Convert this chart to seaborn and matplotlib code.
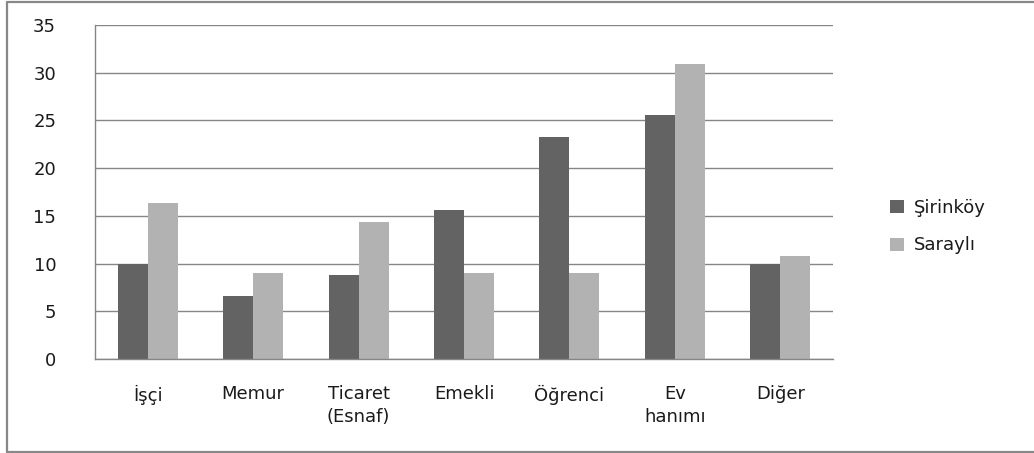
import pandas as pd
import matplotlib.pyplot as plt
import seaborn as sns
from matplotlib.lines import Line2D
from matplotlib.ticker import FixedLocator

sns.set_style("white")
plt.rcParams['font.family'] = ['DejaVu Sans']

# Data
categories = ["İşçi", "Memur", "Ticaret\n(Esnaf)", "Emekli", "Öğrenci", "Ev\nhanımı", "Diğer"]
sirinkoy = [10.0, 6.6, 8.8, 15.6, 23.3, 25.6, 10.0]
sarayli = [16.35, 9.0, 14.35, 9.0, 9.0, 30.95, 10.8]
series = ["Şirinköy", "Saraylı"]
colors = ["#636363", "#b2b2b2"]

df = pd.DataFrame({
    "kategori": categories * 2,
    "deger": sirinkoy + sarayli,
    "grup": [series[0]] * len(categories) + [series[1]] * len(categories),
})

fig = plt.figure(figsize=(10.34, 4.53), dpi=100)
ax = fig.add_axes([0.0919, 0.2075, 0.7137, 0.7373])

sns.barplot(data=df, x="kategori", y="deger", hue="grup", palette=colors,
            width=0.57, saturation=1, linewidth=0, ax=ax)

ax.set_ylim(0, 35)
ax.set_xlim(-0.5, len(categories) - 0.5)
ax.set_yticks(range(0, 36, 5))
ax.yaxis.grid(True, color="#868686", linewidth=1)
ax.set_axisbelow(True)
ax.set_xlabel("")
ax.set_ylabel("")

for s in ["top", "right"]:
    ax.spines[s].set_visible(False)
for s in ["left", "bottom"]:
    ax.spines[s].set_color("#868686")
    ax.spines[s].set_linewidth(1)

ax.tick_params(axis="y", which="major", length=9, width=1, color="#868686",
               direction="out", labelsize=13, pad=19, labelcolor="#1a1a1a")
ax.tick_params(axis="x", which="major", length=0, labelsize=13, pad=19,
               labelcolor="#1a1a1a")
ax.xaxis.set_minor_locator(FixedLocator([i - 0.5 for i in range(len(categories) + 1)]))
ax.tick_params(axis="x", which="minor", length=7, width=1, color="#868686",
               direction="out")
for lbl in ax.get_xticklabels():
    lbl.set_linespacing(1.3)

ax.legend(loc="center left", bbox_to_anchor=(0.845, 0.5),
          bbox_transform=fig.transFigure, frameon=False,
          fontsize=13, handlelength=0.75, handleheight=0.75, handletextpad=0.6,
          labelspacing=1.1, labelcolor="#1a1a1a")

# Outer frame (left, top, bottom edges)
fc = "#888888"
fig.add_artist(Line2D([0.0068, 0.0068], [0.003, 0.995], color=fc, lw=1.6, transform=fig.transFigure))
fig.add_artist(Line2D([0.0068, 1.0], [0.995, 0.995], color=fc, lw=1.6, transform=fig.transFigure))
fig.add_artist(Line2D([0.0068, 1.0], [0.003, 0.003], color=fc, lw=1.6, transform=fig.transFigure))

fig.savefig("out.png", dpi=100)
